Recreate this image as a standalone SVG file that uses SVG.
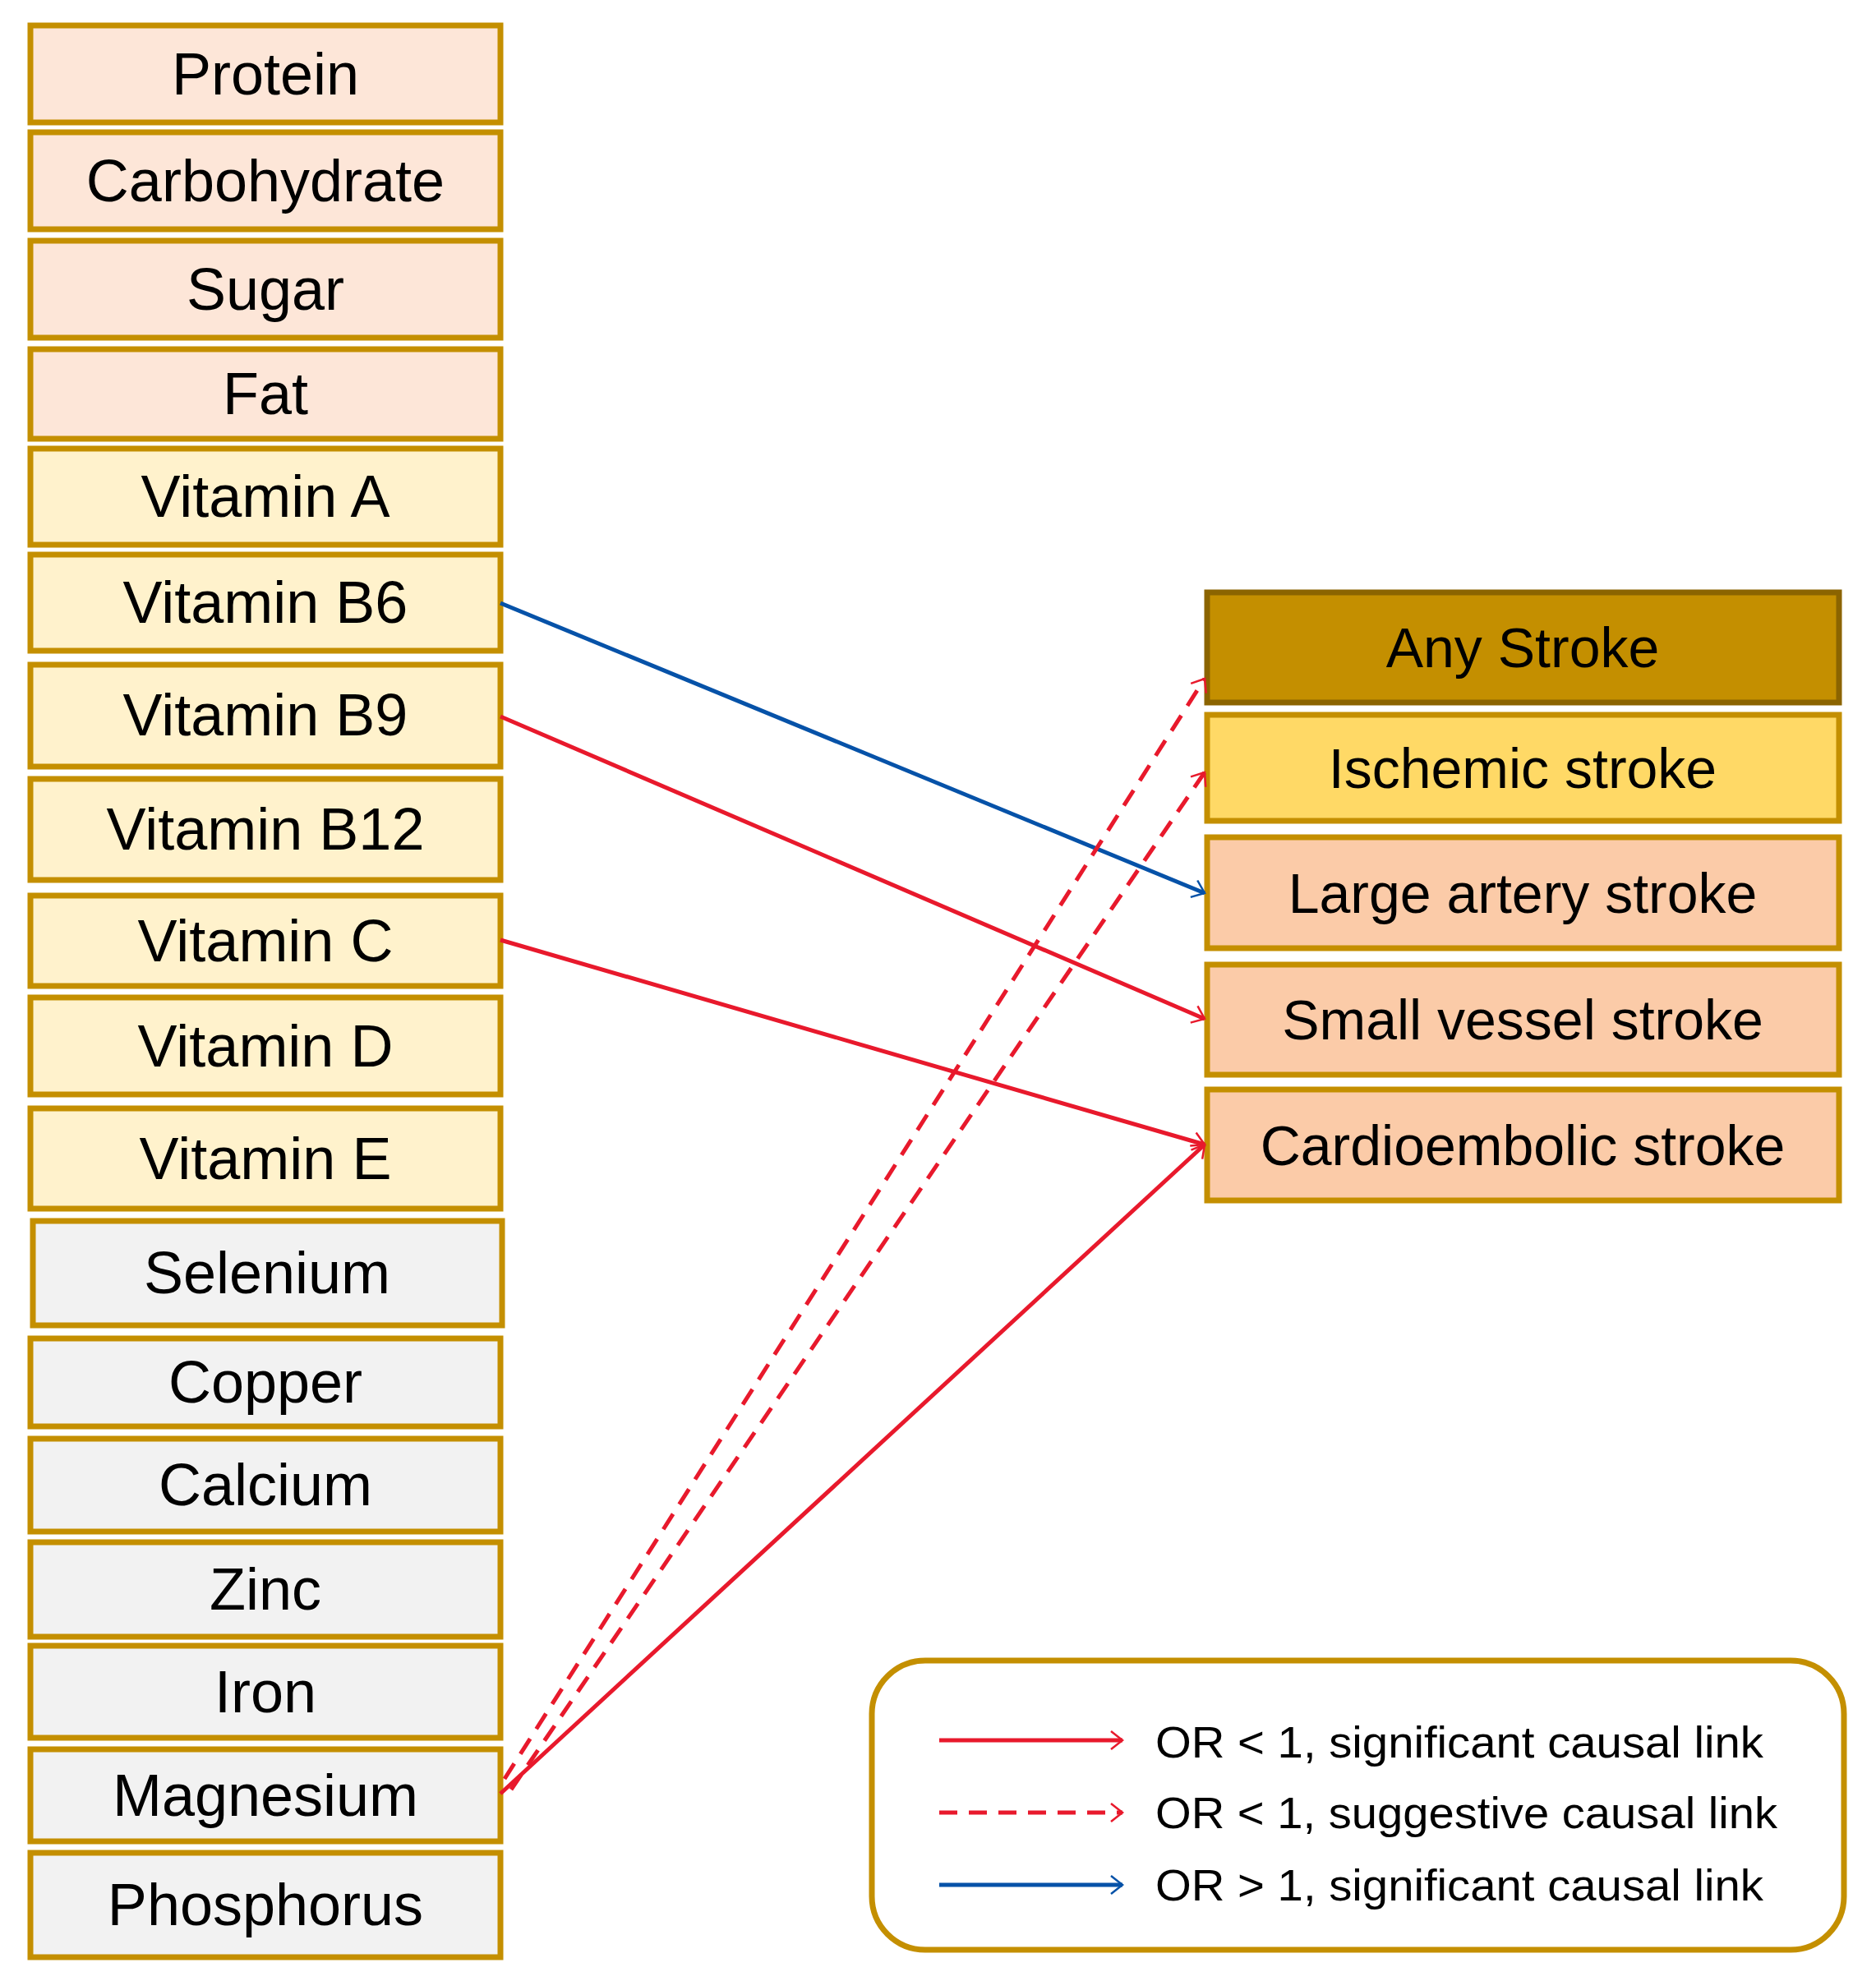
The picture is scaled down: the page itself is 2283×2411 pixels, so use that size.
<svg xmlns="http://www.w3.org/2000/svg" width="2283" height="2411" viewBox="0 0 2283 2411">
<style>
.b{stroke:#C48F00;stroke-width:7}
.p{fill:#FDE6D8}.y{fill:#FFF2CC}.g{fill:#F2F2F2}.s{fill:#FBCBA8}
text{font-family:"Liberation Sans",Arial,sans-serif;fill:#000;text-anchor:middle;dominant-baseline:central}
.t{font-size:72px}.r{font-size:68px}
.l{font-size:54px;text-anchor:start}
.red{stroke:#E8192C;stroke-width:5;fill:none}
.blue{stroke:#0652A8;stroke-width:5;fill:none}
.d{stroke-dasharray:22 14}
</style>
<defs>
<marker id="ar" viewBox="0 0 20 20" refX="18" refY="10" markerWidth="10" markerHeight="10" markerUnits="userSpaceOnUse" orient="auto" overflow="visible"><path d="M-10,-12 L18,10 L-10,32" transform="translate(0,0) scale(1)" fill="none" stroke="#E8192C" stroke-width="5"/></marker>
<marker id="ab" viewBox="0 0 20 20" refX="18" refY="10" markerWidth="10" markerHeight="10" markerUnits="userSpaceOnUse" orient="auto" overflow="visible"><path d="M-10,-12 L18,10 L-10,32" fill="none" stroke="#0652A8" stroke-width="5"/></marker>
</defs>
<g id="n-protein"><rect class="b p" x="37" y="31" width="572" height="118"/><text class="t" x="323" y="90">Protein</text></g>
<g id="n-carb"><rect class="b p" x="37" y="161" width="572" height="118"/><text class="t" x="323" y="220">Carbohydrate</text></g>
<g id="n-sugar"><rect class="b p" x="37" y="293" width="572" height="118"/><text class="t" x="323" y="352">Sugar</text></g>
<g id="n-fat"><rect class="b p" x="37" y="425" width="572" height="109"/><text class="t" x="323" y="479">Fat</text></g>
<g id="n-va"><rect class="b y" x="37" y="546" width="572" height="117"/><text class="t" x="323" y="604">Vitamin A</text></g>
<g id="n-vb6"><rect class="b y" x="37" y="675" width="572" height="117"/><text class="t" x="323" y="733">Vitamin B6</text></g>
<g id="n-vb9"><rect class="b y" x="37" y="809" width="572" height="124"/><text class="t" x="323" y="870">Vitamin B9</text></g>
<g id="n-vb12"><rect class="b y" x="37" y="948" width="572" height="123"/><text class="t" x="323" y="1009">Vitamin B12</text></g>
<g id="n-vc"><rect class="b y" x="37" y="1090" width="572" height="110"/><text class="t" x="323" y="1145">Vitamin C</text></g>
<g id="n-vd"><rect class="b y" x="37" y="1214" width="572" height="118"/><text class="t" x="323" y="1273">Vitamin D</text></g>
<g id="n-ve"><rect class="b y" x="37" y="1349" width="572" height="122"/><text class="t" x="323" y="1410">Vitamin E</text></g>
<g id="n-se"><rect class="b g" x="40" y="1486" width="571" height="127"/><text class="t" x="325" y="1549">Selenium</text></g>
<g id="n-cu"><rect class="b g" x="37" y="1629" width="572" height="107"/><text class="t" x="323" y="1682">Copper</text></g>
<g id="n-ca"><rect class="b g" x="37" y="1751" width="572" height="113"/><text class="t" x="323" y="1807">Calcium</text></g>
<g id="n-zn"><rect class="b g" x="37" y="1877" width="572" height="115"/><text class="t" x="323" y="1934">Zinc</text></g>
<g id="n-fe"><rect class="b g" x="37" y="2003" width="572" height="112"/><text class="t" x="323" y="2059">Iron</text></g>
<g id="n-mg"><rect class="b g" x="37" y="2129" width="572" height="112"/><text class="t" x="323" y="2185">Magnesium</text></g>
<g id="n-p"><rect class="b g" x="37" y="2255" width="572" height="127"/><text class="t" x="323" y="2318">Phosphorus</text></g>

<g id="n-any"><rect x="1469" y="721" width="769" height="134" fill="#C48F00" stroke="#8B6400" stroke-width="7"/><text class="r" x="1853" y="788">Any Stroke</text></g>
<g id="n-isch"><rect class="b" fill="#FFD966" x="1469" y="870" width="769" height="129"/><text class="r" x="1853" y="935">Ischemic stroke</text></g>
<g id="n-large"><rect class="b s" x="1469" y="1019" width="769" height="135"/><text class="r" x="1853" y="1087">Large artery stroke</text></g>
<g id="n-small"><rect class="b s" x="1469" y="1174" width="769" height="134"/><text class="r" x="1853" y="1241">Small vessel stroke</text></g>
<g id="n-cardio"><rect class="b s" x="1469" y="1326" width="769" height="135"/><text class="r" x="1853" y="1394">Cardioembolic stroke</text></g>

<g id="connectors">
<line class="blue" x1="609" y1="734" x2="1466" y2="1087" marker-end="url(#ab)"/>
<line class="red" x1="609" y1="872" x2="1466" y2="1240" marker-end="url(#ar)"/>
<line class="red" x1="609" y1="1144" x2="1466" y2="1393" marker-end="url(#ar)"/>
<line class="red" x1="609" y1="2183" x2="1466" y2="1393" marker-end="url(#ar)"/>
<line class="red d" x1="614" y1="2165" x2="1466" y2="826" marker-end="url(#ar)"/>
<line class="red d" x1="622" y1="2178" x2="1466" y2="940" marker-end="url(#ar)"/>
</g>

<g id="legend">
<rect x="1061" y="2021" width="1183" height="352" rx="65" fill="#fff" stroke="#C48F00" stroke-width="7"/>
<line class="red" x1="1143" y1="2118" x2="1366" y2="2118" marker-end="url(#ar)"/>
<line class="red d" x1="1143" y1="2206" x2="1366" y2="2206" marker-end="url(#ar)"/>
<line class="blue" x1="1143" y1="2294" x2="1366" y2="2294" marker-end="url(#ab)"/>
<text class="l" x="1406" y="2120" textLength="740" lengthAdjust="spacingAndGlyphs">OR &lt; 1, significant causal link</text>
<text class="l" x="1406" y="2206" textLength="757" lengthAdjust="spacingAndGlyphs">OR &lt; 1, suggestive causal link</text>
<text class="l" x="1406" y="2294" textLength="740" lengthAdjust="spacingAndGlyphs">OR &gt; 1, significant causal link</text>
</g>
</svg>
